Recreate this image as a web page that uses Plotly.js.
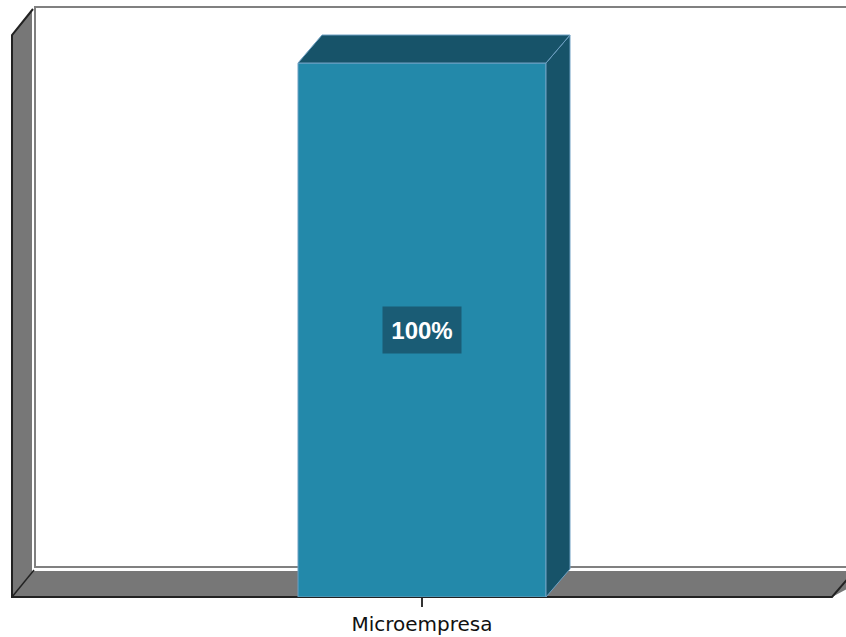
<!DOCTYPE html>
<html><head><meta charset="utf-8">
<script src="https://cdn.plot.ly/plotly-3.0.1.min.js"></script>
<style>html,body{margin:0;padding:0;background:#fff}#c{width:846px;height:637px}</style>
</head><body><div id="c"></div>
<script>
const categories = ["Microempresa"];
const values = [100];
const labels = ["100%"];

const W = 846, H = 637;
const M = {l: 12, r: 0, t: 7, b: 40};
const pw = W - M.l - M.r, ph = H - M.t - M.b;
const pxPerX = 248, pxPerY = 5.34;
const xCenterPx = 422;
const xr = [-(xCenterPx - M.l) / pxPerX, (W - M.r - xCenterPx) / pxPerX];
const yr = [0, ph / pxPerY];
const depthPx = {dx: 24, dy: 28};
const ddx = depthPx.dx / pxPerX, ddy = depthPx.dy / pxPerY;

function P(px, py) { return [(px - M.l) / pw, (H - M.b - py) / ph]; }
function pathPaper(pts, close) {
  return pts.map((p, i) => { const q = P(p[0], p[1]); return (i ? 'L' : 'M') + q[0].toFixed(5) + ',' + q[1].toFixed(5); }).join(' ') + (close ? ' Z' : '');
}

const wallFill = '#777777';
const shapes = [
  {type: 'path', xref: 'paper', yref: 'paper', layer: 'below', path: pathPaper([[35,7],[870,7],[870,567],[35,567]], true), fillcolor: '#ffffff', line: {color: '#808080', width: 2}},
  {type: 'path', xref: 'paper', yref: 'paper', layer: 'below', path: pathPaper([[12,597],[12,35],[32,10],[32,572]], true), fillcolor: wallFill, line: {width: 0}},
  {type: 'path', xref: 'paper', yref: 'paper', layer: 'below', path: pathPaper([[12,597],[33,571],[880,571],[832,597]], true), fillcolor: wallFill, line: {width: 0}},
  {type: 'path', xref: 'paper', yref: 'paper', layer: 'below', path: pathPaper([[33,9],[12,35],[12,597],[832,597],[858,567]], false), line: {color: '#222222', width: 2}},
  {type: 'path', xref: 'paper', yref: 'paper', layer: 'below', path: pathPaper([[12,597],[34,570]], false), line: {color: '#222222', width: 1.5}}
];

const frontColor = 'rgb(35,137,170)';
const darkColor = 'rgb(23,83,105)';
const edgeColor = 'rgb(110,160,195)';

const traces = [];
categories.forEach((c, i) => {
  const v = values[i];
  const x0 = i - 0.5, x1 = i + 0.5;
  traces.push({type: 'scatter', mode: 'lines', fill: 'toself', fillcolor: darkColor,
    x: [x1, x1 + ddx, x1 + ddx, x1, x1], y: [0, ddy, v + ddy, v, 0],
    line: {color: edgeColor, width: 1}, hoverinfo: 'skip', showlegend: false});
  traces.push({type: 'scatter', mode: 'lines', fill: 'toself', fillcolor: darkColor,
    x: [x0, x0 + ddx, x1 + ddx, x1, x0], y: [v, v + ddy, v + ddy, v, v],
    line: {color: edgeColor, width: 1}, hoverinfo: 'skip', showlegend: false});
});
traces.push({type: 'bar', x: categories.map((c, i) => i), y: values, width: 1,
  marker: {color: frontColor, line: {color: edgeColor, width: 1}}, hoverinfo: 'skip', showlegend: false});

const annotations = categories.map((c, i) => ({
  x: i, y: values[i] / 2, xref: 'x', yref: 'y', text: '<b>' + labels[i] + '</b>', showarrow: false,
  font: {family: 'Liberation Sans, Arial, sans-serif', size: 24, color: '#ffffff'},
  bgcolor: 'rgb(26,92,117)', width: 76, height: 44
}));

const layout = {
  width: W, height: H, margin: M, paper_bgcolor: '#ffffff', plot_bgcolor: 'rgba(0,0,0,0)',
  showlegend: false, shapes: shapes, annotations: annotations,
  xaxis: {range: xr, tickvals: categories.map((c, i) => i), ticktext: categories, ticks: 'outside', ticklen: 9, tickwidth: 2, tickcolor: '#333333',
    showgrid: false, zeroline: false, showline: false, fixedrange: true,
    tickfont: {family: 'DejaVu Sans, sans-serif', size: 20, color: '#111111'}},
  yaxis: {range: yr, visible: false, showgrid: false, zeroline: false, fixedrange: true}
};
Plotly.newPlot('c', traces, layout, {staticPlot: true, displayModeBar: false});
</script></body></html>
